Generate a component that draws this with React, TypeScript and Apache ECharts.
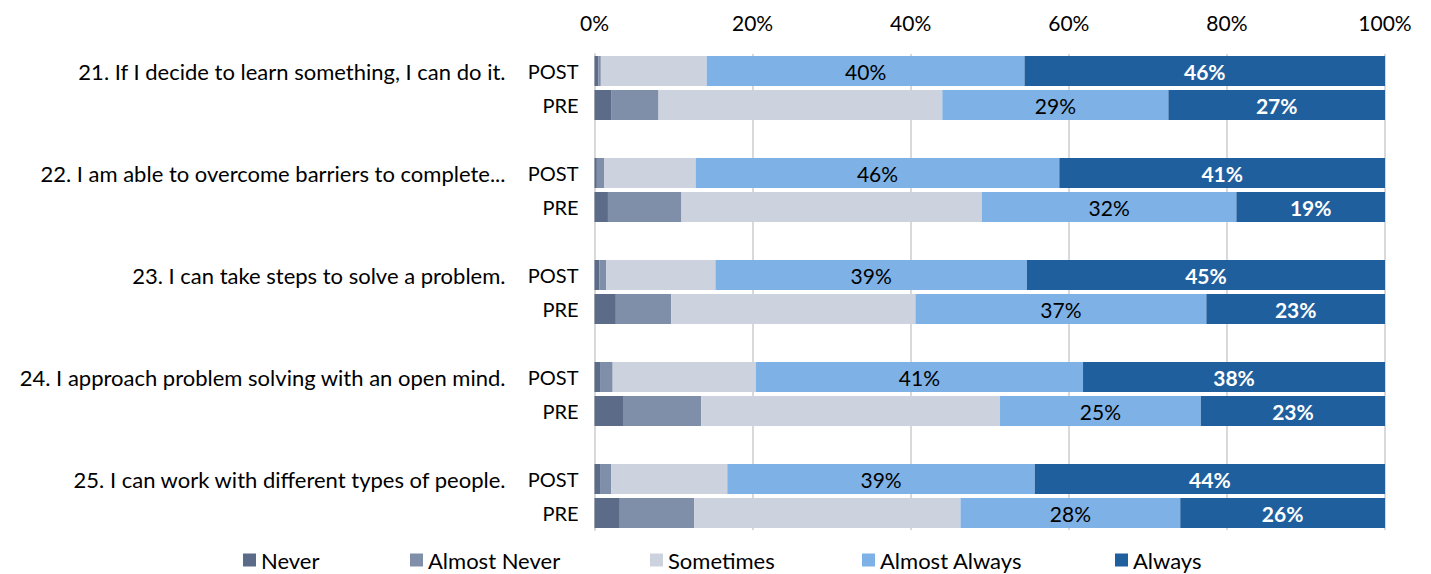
import React, { useEffect, useRef } from "react";
import * as echarts from "echarts";

// Survey statements (each shown with a POST and a PRE bar)
const questions = [
  "21. If I decide to learn something, I can do it.",
  "22. I am able to overcome barriers to complete...",
  "23. I can take steps to solve a problem.",
  "24. I approach problem solving with an open mind.",
  "25. I can work with different types of people.",
];
const phases = ["POST", "PRE"];
const levels = ["Never", "Almost Never", "Sometimes", "Almost Always", "Always"];
const xTicks = [0, 20, 40, 60, 80, 100];

// Percent of responses per row, rows ordered Q21 POST, Q21 PRE, Q22 POST, ...
const never = [0.5, 2.1, 0.3, 1.7, 0.6, 2.7, 0.7, 3.7, 0.7, 3.2];
const almostNever = [0.3, 6.0, 0.9, 9.3, 0.9, 7.0, 1.6, 9.8, 1.4, 9.4];
const sometimes = [13.4, 35.9, 11.6, 38.0, 13.8, 30.9, 18.1, 37.8, 14.7, 33.7];
const almostAlways = [40.2, 28.6, 46.0, 32.2, 39.4, 36.8, 41.4, 25.4, 38.9, 27.8];
const always = [45.6, 27.4, 41.2, 18.8, 45.3, 22.6, 38.2, 23.3, 44.3, 25.9];

const levelValues = [never, almostNever, sometimes, almostAlways, always];
const levelColors = ["#5b6b88", "#808fa9", "#ccd2de", "#7eb1e5", "#205f9e"];

const FONT = "Lato";

export default function App() {
  const ref = useRef<HTMLDivElement>(null);

  useEffect(() => {
    if (!ref.current) return;
    const chart = echarts.init(ref.current, null, { renderer: "svg" });

    // Category slots: POST, PRE, then an empty spacer between statements
    const cats: string[] = [];
    const rowIndex: (number | null)[] = [];
    questions.forEach((_, qi) => {
      phases.forEach((ph, pi) => {
        cats.push(`${qi}|${ph}`);
        rowIndex.push(qi * phases.length + pi);
      });
      if (qi < questions.length - 1) {
        cats.push(`${qi}|gap`);
        rowIndex.push(null);
      }
    });

    const padded = (vals: number[]) =>
      rowIndex.map((r) => (r === null ? "-" : vals[r]));

    const legendLefts = [243, 410, 650, 862, 1115];

    const option: any = {
      animation: false,
      textStyle: { fontFamily: FONT },
      grid: { left: 594.5, right: 46, top: 54, bottom: 44, containLabel: false },
      xAxis: {
        type: "value",
        position: "top",
        min: xTicks[0],
        max: xTicks[xTicks.length - 1],
        interval: xTicks[1] - xTicks[0],
        axisLine: { show: false },
        axisTick: { show: false },
        axisLabel: {
          formatter: "{value}%",
          fontSize: 21,
          fontFamily: FONT,
          color: "#000",
          margin: 21,
        },
        splitLine: { show: true, lineStyle: { color: "#d9d9d9", width: 2 } },
      },
      yAxis: [
        {
          type: "category",
          inverse: true,
          position: "left",
          data: cats,
          axisLine: { show: true, lineStyle: { color: "#d9d9d9", width: 2 } },
          axisTick: { show: false },
          axisLabel: {
            interval: 0,
            margin: 16,
            fontSize: 20,
            fontFamily: FONT,
            color: "#000",
            formatter: (v: string) => {
              const p = v.split("|")[1];
              return p === "gap" ? "" : p;
            },
          },
        },
        {
          type: "category",
          inverse: true,
          position: "left",
          data: cats,
          axisLine: { show: false },
          axisTick: { show: false },
          splitLine: { show: false },
          axisLabel: {
            interval: 0,
            margin: 89,
            fontSize: 22,
            fontFamily: FONT,
            color: "#000",
            formatter: (v: string) => {
              const [qi, p] = v.split("|");
              return p === "POST" ? questions[Number(qi)] : "";
            },
          },
        },
      ],
      legend: levels.map((name, i) => ({
        data: [name],
        left: legendLefts[i],
        top: 549,
        padding: 0,
        icon: "rect",
        itemWidth: 13,
        itemHeight: 13,
        selectedMode: false,
        textStyle: { fontSize: 22, fontFamily: FONT, color: "#000", padding: [0, 0, 0, 0] },
      })),
      series: levels.map((name, li) => ({
        name,
        type: "bar",
        stack: "total",
        yAxisIndex: 0,
        barWidth: 30,
        data: padded(levelValues[li]),
        itemStyle: { color: levelColors[li] },
        label:
          li >= 3
            ? {
                show: true,
                position: "inside",
                fontSize: 21,
                fontFamily: FONT,
                color: li === 4 ? "#fff" : "#000",
                fontWeight: li === 4 ? "bold" : "normal",
                formatter: (p: any) => `${Math.round(p.value)}%`,
              }
            : { show: false },
      })),
    };

    chart.setOption(option);
    return () => chart.dispose();
  }, []);

  return (
    <div
      ref={ref}
      style={{ position: "fixed", left: 0, top: 0, width: 1431, height: 574, background: "#fff" }}
    />
  );
}
